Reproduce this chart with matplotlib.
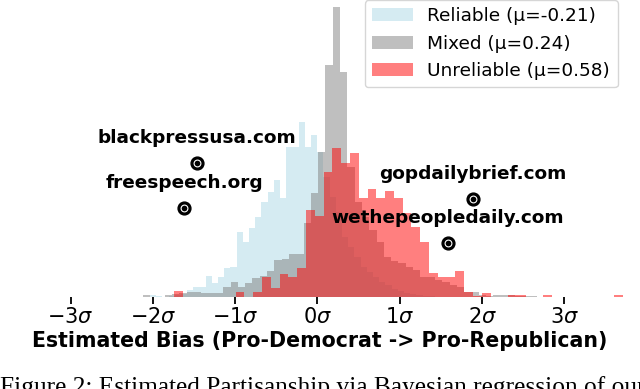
import numpy as np
import matplotlib
matplotlib.use("Agg")
import matplotlib.pyplot as plt

# histogram counts (bin start, bin width in sigma units)
rel_start, rel_width = -2.036, 0.0753
reliable = [2, 1, 0, 1, 2, 3, 7, 10, 10, 21, 14, 20, 29, 30, 65, 55, 69, 80, 95, 105,
            117, 99, 150, 150, 175, 150, 162, 145, 120, 100, 85, 60, 50, 40, 30, 25,
            20, 15, 12, 8, 6, 4, 3, 2, 1, 1]

mix_start, mix_width = -2.121, 0.0887
mixed = [2, 0, 0, 2, 3, 4, 5, 5, 4, 4, 4, 10, 15, 10, 14, 19, 21, 26, 37, 38,
         43, 43, 74, 104, 145, 232, 290, 225, 130, 95, 80, 67, 55, 40, 36, 34, 30,
         27, 20, 20, 17, 15, 12, 10, 5, 5, 2, 1, 2, 2, 2, 1, 1, 1]

unr_start, unr_width = -1.744, 0.1069
unreliable = [6, 0, 0, 0, 0, 0, 0, 5, 0, 5, 20, 9, 23, 20, 29, 87, 81, 125, 149, 134,
              144, 99, 108, 99, 106, 99, 84, 70, 55, 24, 20, 20, 26, 5, 1, 4, 0, 0, 2, 2,
              0, 0, 2, 0, 0, 0, 0, 0, 0, 0, 2]

labels = ['Reliable (μ=-0.21)', 'Mixed (μ=0.24)', 'Unreliable (μ=0.58)']
colors = ['lightblue', 'gray', 'red']

# highlighted outlets: name, bias (sigma), height
sites = ['blackpressusa.com', 'freespeech.org', 'gopdailybrief.com', 'wethepeopledaily.com']
site_x = [-1.464, -1.622, 1.889, 1.586]
site_y = [134, 89, 98, 54]

ticks = [-3, -2, -1, 0, 1, 2, 3]
tick_labels = [r'$-3\sigma$', r'$-2\sigma$', r'$-1\sigma$', r'$0\sigma$',
               r'$1\sigma$', r'$2\sigma$', r'$3\sigma$']

fig = plt.figure(figsize=(6.4, 3.89), dpi=100)
ax = fig.add_axes([0, 92 / 389, 1, 297 / 389])

series = [(reliable, rel_start, rel_width), (mixed, mix_start, mix_width),
          (unreliable, unr_start, unr_width)]
for (counts, start, width), lab, col in zip(series, labels, colors):
    edges = start + width * np.arange(len(counts) + 1)
    ax.hist(edges[:-1], bins=edges, weights=counts, color=col, alpha=0.5, label=lab)

for name, x, y in zip(sites, site_x, site_y):
    ax.scatter(x, y, s=85, color='black', zorder=5)
    ax.scatter(x, y, s=24, color='black', edgecolors='white', linewidths=0.8, zorder=6)
    ax.text(x, y + 25, name, ha='center', va='center', fontsize=13.3, fontweight='bold')

ax.set_xlim(-3.858, 3.919)
ax.set_ylim(0, 297)
ax.set_xticks(ticks)
ax.set_xticklabels(tick_labels, fontsize=15)
ax.tick_params(axis='x', length=5, width=1.3, pad=2)
ax.set_yticks([])
for s in ax.spines.values():
    s.set_visible(False)
ax.patch.set_alpha(0)

ax.set_xlabel('Estimated Bias (Pro-Democrat -> Pro-Republican)', fontsize=14.8,
              fontweight='bold', labelpad=3)

ax.legend(loc='upper right', bbox_to_anchor=(0.965, 1.0), fontsize=13.3,
          borderaxespad=0, handlelength=2.2, labelspacing=0.5, handletextpad=0.8,
          borderpad=0.4)

fig.text(0.0, -0.012, 'Figure 2: Estimated Partisanship via Bayesian regression of our',
         fontsize=18.3, family='Liberation Serif', ha='left', va='baseline')

fig.savefig('out.png', dpi=100)
